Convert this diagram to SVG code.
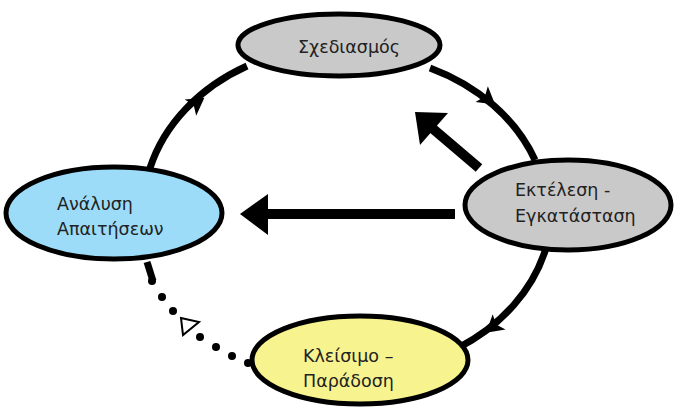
<svg xmlns="http://www.w3.org/2000/svg" width="678" height="412" viewBox="0 0 678 412">
<style>
.arc{fill:none;stroke:#000;stroke-width:7;stroke-linecap:butt}
.node{stroke:#000;stroke-width:5}
.lbl{font-family:"DejaVu Sans",sans-serif;font-size:17.5px;fill:#222}
.head{fill:#000}
.dot{fill:#000}
</style>
<rect width="678" height="412" fill="#fff"/>
<g id="connectors">
  <path class="arc" d="M150,168 A200,165 0 0 1 247,66"/>
  <path class="arc" d="M430,68 A200,165 0 0 1 535,160"/>
  <path class="arc" d="M546,248 A200,165 0 0 1 458,348"/>
  <polygon class="head" points="0,-10 17,0 0,10 4,0" transform="translate(197,103) rotate(-35) translate(-8,0)"/>
  <polygon class="head" points="0,-10 17,0 0,10 4,0" transform="translate(488,99) rotate(38) translate(-8,0)"/>
  <polygon class="head" points="0,-10 17,0 0,10 4,0" transform="translate(493,327) rotate(140) translate(-8,0)"/>
  <path d="M147,262 L153,281" stroke="#000" stroke-width="7" fill="none"/>
  <g class="dot">
    <circle cx="152" cy="281" r="4"/>
    <circle cx="162" cy="297" r="4"/>
    <circle cx="173" cy="311" r="4"/>
    <circle cx="200" cy="337" r="4"/>
    <circle cx="216" cy="347" r="4"/>
    <circle cx="232" cy="356" r="4"/>
    <circle cx="248" cy="363" r="4"/>
  </g>
  <polygon points="181,318 199,322 183,335" fill="#fff" stroke="#000" stroke-width="2" stroke-linejoin="miter"/>
  <line x1="455" y1="214" x2="264" y2="214" stroke="#000" stroke-width="10"/>
  <polygon class="head" points="240,214 268,194 268,235"/>
  <line x1="479" y1="168" x2="432" y2="128" stroke="#000" stroke-width="10"/>
  <polygon class="head" points="415,112 448,113 420,145"/>
</g>
<g id="node-design">
  <ellipse class="node" cx="339" cy="45" rx="101" ry="31" fill="#c9c9c9"/>
  <text class="lbl" x="349" y="53" text-anchor="middle">Σχεδιασμός</text>
</g>
<g id="node-analysis">
  <ellipse class="node" cx="114" cy="213" rx="108" ry="46" fill="#9cdcf8"/>
  <text class="lbl" x="57" y="210">Ανάλυση</text>
  <text class="lbl" x="57" y="235">Απαιτήσεων</text>
</g>
<g id="node-execution">
  <ellipse class="node" cx="568" cy="205" rx="103" ry="45" fill="#c9c9c9"/>
  <text class="lbl" x="515" y="196">Εκτέλεση -</text>
  <text class="lbl" x="515" y="222">Εγκατάσταση</text>
</g>
<g id="node-closing">
  <ellipse class="node" cx="360" cy="360" rx="108" ry="44" fill="#f7f48f"/>
  <text class="lbl" x="303" y="362">Κλείσιμο –</text>
  <text class="lbl" x="303" y="387">Παράδοση</text>
</g>
</svg>
